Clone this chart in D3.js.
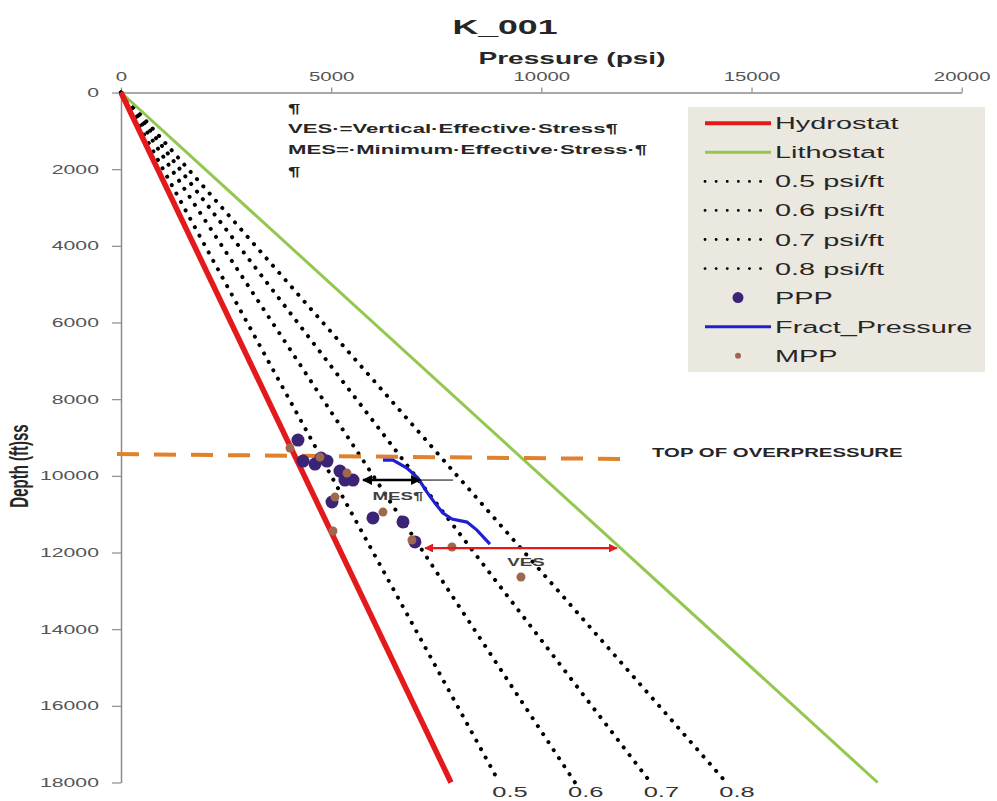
<!DOCTYPE html>
<html>
<head>
<meta charset="utf-8">
<script src="https://cdn.jsdelivr.net/npm/d3@7"></script>
<style>
  body { margin: 0; background: #fff; }
  text { font-family: "Liberation Sans", Arial, sans-serif; }
</style>
</head>
<body>
<script>
// ---- data ----
const pressureTicks = [0, 5000, 10000, 15000, 20000];
const depthTicks = [0, 2000, 4000, 6000, 8000, 10000, 12000, 14000, 16000, 18000];

// reference lines, [surface, 18000 ft]
const lineDepth = [0, 18000];
const hydroPressure = [0, 7850];
const lithoPressure = [0, 18000];
const gradLabels = ["0.5", "0.6", "0.7", "0.8"];
const gradPressure = [[0, 9000], [0, 10800], [0, 12600], [0, 14400]];

// PPP points
const pppPressure = [4210, 4329, 4615, 4758, 4900, 5209, 5328, 5519, 5019, 5994, 6708, 6993];
const pppDepth    = [9066, 9615, 9694, 9537, 9615, 9876, 10111, 10111, 10683, 11097, 11202, 11724];

// MPP points
const mppPressure = [4020, 4733, 5376, 5090, 6232, 5043, 6922, 7873, 9515];
const mppDepth    = [9276, 9511, 9928, 10554, 10945, 11440, 11675, 11858, 12640];

// Fract_Pressure line
const fracPressure = [6232, 6470, 6803, 7065, 7279, 7469, 7660, 7873, 8230, 8468, 8777];
const fracDepth    = [9589, 9589, 9798, 10059, 10424, 10711, 10972, 11128, 11206, 11415, 11780];

// top of overpressure
const topOpPressure = [-95, 12036];
const topOpDepth = [9432, 9562];

// VES / MES arrows
const vesPressure = [7234, 11795], vesDepth = 11884;
const mesPressure = [5757, 7114], mesDepth = 10110, mesTail = 7900;

const legendItems = ["Hydrostat", "Lithostat", "0.5 psi/ft", "0.6 psi/ft", "0.7 psi/ft", "0.8 psi/ft", "PPP", "Fract_Pressure", "MPP"];
const notes = ["¶", "VES·=Vertical·Effective·Stress¶", "MES=·Minimum·Effective·Stress·¶", "¶"];

// ---- drawing ----
const K = 1.7; // horizontal stretch of all text in the original

const svg = d3.select("body").append("svg")
  .attr("width", 997)
  .attr("height", 801);

const x = d3.scaleLinear().domain([0, 20000]).range([121, 961.7]);
const y = d3.scaleLinear().domain([0, 18000]).range([92.5, 782.5]);

function label(g, px, py, str, size, weight, anchor, color) {
  return g.append("text")
    .attr("transform", "translate(" + px + "," + py + ") scale(" + K + ",1)")
    .attr("text-anchor", anchor || "start")
    .attr("font-size", size)
    .attr("font-weight", weight || "normal")
    .attr("fill", color || "#333")
    .text(str);
}

// markers for arrows
const defs = svg.append("defs");
[["redHead", "#e3191c"], ["blackHead", "#000"]].forEach(([id, c]) => {
  defs.append("marker")
    .attr("id", id)
    .attr("viewBox", "0 0 10 10")
    .attr("refX", 9).attr("refY", 5)
    .attr("markerWidth", 4).attr("markerHeight", 4)
    .attr("orient", "auto-start-reverse")
    .append("path").attr("d", "M0,0L10,5L0,10Z").attr("fill", c);
});

// axes
const xAxis = d3.axisTop(x).tickValues(pressureTicks).tickFormat(d3.format("d"))
  .tickSize(5).tickSizeOuter(0).tickPadding(7);
const gx = svg.append("g").attr("transform", "translate(0," + y(0) + ")").call(xAxis);
const yAxis = d3.axisLeft(y).tickValues(depthTicks).tickFormat(d3.format("d"))
  .tickSize(9).tickSizeOuter(0).tickPadding(13);
const gy = svg.append("g").attr("transform", "translate(" + x(0) + ",0)").call(yAxis);

[gx, gy].forEach(g => {
  g.select(".domain").attr("stroke", "#8c8c8c").attr("stroke-width", 1.5);
  g.selectAll(".tick line").attr("stroke", "#8c8c8c").attr("stroke-width", 1.2);
  g.selectAll(".tick text")
    .attr("font-family", "Liberation Sans, Arial, sans-serif")
    .attr("font-size", 12.5)
    .attr("fill", "#555");
});
gx.selectAll(".tick text").attr("font-size", 12).attr("transform", "scale(" + K + ",1)");
gy.selectAll(".tick text").attr("x", -22 / K).attr("transform", "scale(" + K + ",1)");

// titles
label(svg, 505, 34, "K_001", 21, "bold", "middle", "#262626");
label(svg, 572, 64, "Pressure (psi)", 16.5, "bold", "middle", "#262626");
svg.append("text")
  .attr("transform", "translate(28,466) scale(" + K + ",1) rotate(-90)")
  .attr("text-anchor", "middle")
  .attr("font-size", 15)
  .attr("font-weight", "bold")
  .attr("fill", "#262626")
  .text("Depth (ft)ss");

// reference lines
const line = d3.line().x(d => x(d[0])).y(d => y(d[1]));

gradPressure.forEach((p, i) => {
  svg.append("path")
    .attr("d", line(p.map((v, j) => [v, lineDepth[j]])))
    .attr("fill", "none")
    .attr("stroke", "#000")
    .attr("stroke-width", 4)
    .attr("stroke-linecap", "round")
    .attr("stroke-dasharray", "0.1 9.5");
  label(svg, x(p[1]) - 7, 797, gradLabels[i], 15, "normal", "start", "#333");
});

svg.append("path")
  .attr("d", line(lithoPressure.map((v, j) => [v, lineDepth[j]])))
  .attr("fill", "none").attr("stroke", "#92c84f").attr("stroke-width", 3);

svg.append("path")
  .attr("d", line(hydroPressure.map((v, j) => [v, lineDepth[j]])))
  .attr("fill", "none").attr("stroke", "#e3191c").attr("stroke-width", 5.5);

// top of overpressure
svg.append("path")
  .attr("d", line(topOpPressure.map((v, j) => [v, topOpDepth[j]])))
  .attr("fill", "none").attr("stroke", "#e0822c").attr("stroke-width", 4)
  .attr("stroke-dasharray", "22 15");
label(svg, 652, 457, "TOP OF OVERPRESSURE", 12, "bold", "start", "#262626");

// fracture pressure
svg.append("path")
  .attr("d", line(fracPressure.map((v, i) => [v, fracDepth[i]])))
  .attr("fill", "none").attr("stroke", "#1f1fd4").attr("stroke-width", 3.2);

// PPP
svg.selectAll("circle.ppp")
  .data(pppPressure.map((v, i) => [v, pppDepth[i]]))
  .enter().append("circle")
  .attr("class", "ppp")
  .attr("cx", d => x(d[0])).attr("cy", d => y(d[1]))
  .attr("r", 6.5)
  .attr("fill", "#3b2476");

// MPP
svg.selectAll("circle.mpp")
  .data(mppPressure.map((v, i) => [v, mppDepth[i]]))
  .enter().append("circle")
  .attr("class", "mpp")
  .attr("cx", d => x(d[0])).attr("cy", d => y(d[1]))
  .attr("r", 4.5)
  .attr("fill", "#a0674f");

// VES arrow
svg.append("line")
  .attr("x1", x(vesPressure[0])).attr("x2", x(vesPressure[1]))
  .attr("y1", y(vesDepth)).attr("y2", y(vesDepth))
  .attr("stroke", "#e3191c").attr("stroke-width", 2.2)
  .attr("marker-start", "url(#redHead)").attr("marker-end", "url(#redHead)");
label(svg, 526, 566, "VES", 11, "bold", "middle", "#404040");

// MES arrow
svg.append("line")
  .attr("x1", x(mesPressure[1])).attr("x2", x(mesTail))
  .attr("y1", y(mesDepth)).attr("y2", y(mesDepth))
  .attr("stroke", "#000").attr("stroke-width", 1);
svg.append("line")
  .attr("x1", x(mesPressure[0])).attr("x2", x(mesPressure[1]))
  .attr("y1", y(mesDepth)).attr("y2", y(mesDepth))
  .attr("stroke", "#000").attr("stroke-width", 2.5)
  .attr("marker-start", "url(#blackHead)").attr("marker-end", "url(#blackHead)");
label(svg, 398, 500, "MES¶", 11, "bold", "middle", "#404040");

// notes
notes.forEach((t, i) => {
  label(svg, 288, [113, 133, 154, 176][i], t, 13, "bold", "start", "#262626");
});

// legend
const lg = svg.append("g");
lg.append("rect")
  .attr("x", 688).attr("y", 107).attr("width", 297).attr("height", 265)
  .attr("fill", "#ebe8e0");
legendItems.forEach((name, i) => {
  const cy = 123.3 + i * 29.05;
  if (i === 6 || i === 8) {
    lg.append("circle").attr("cx", 738).attr("cy", cy)
      .attr("r", i === 6 ? 5.5 : 3)
      .attr("fill", i === 6 ? "#3b2476" : "#a0674f");
  } else {
    const s = lg.append("line")
      .attr("x1", 705).attr("x2", 771).attr("y1", cy).attr("y2", cy);
    if (i === 0) s.attr("stroke", "#e3191c").attr("stroke-width", 4);
    else if (i === 1) s.attr("stroke", "#92c84f").attr("stroke-width", 3);
    else if (i === 7) s.attr("stroke", "#1f1fd4").attr("stroke-width", 3);
    else s.attr("stroke", "#000").attr("stroke-width", 2.8)
      .attr("stroke-linecap", "round").attr("stroke-dasharray", "0.1 11");
  }
  label(lg, 775, cy + 6, name, 17, "normal", "start", "#262626");
});
</script>
</body>
</html>
